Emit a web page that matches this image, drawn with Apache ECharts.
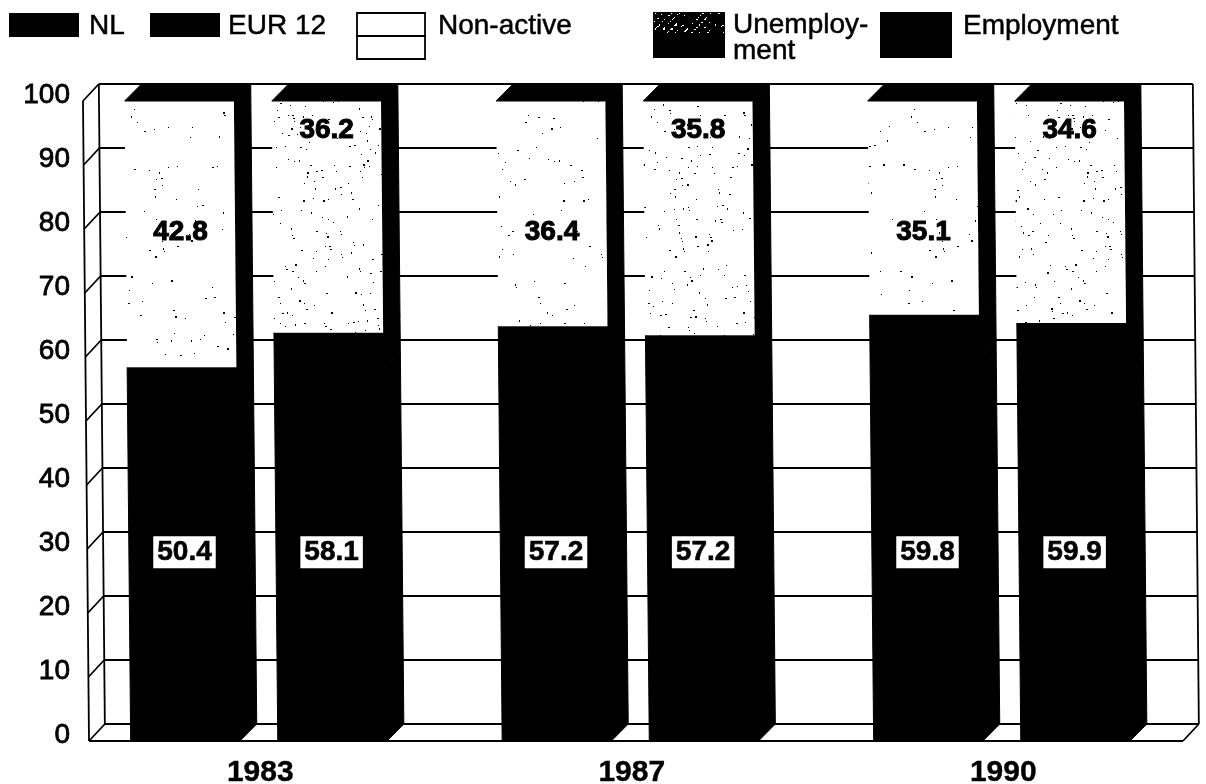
<!DOCTYPE html>
<html>
<head>
<meta charset="utf-8">
<style>html,body{margin:0;padding:0;background:#fff}#c{width:1206px;height:784px}</style>
<script src="https://cdn.jsdelivr.net/npm/echarts@6/dist/echarts.min.js"></script>
</head>
<body>
<div id="c"></div>
<script>
var years = ['1983', '1987', '1990'];
var yAxisMax = 100;
var yAxisStep = 10;
var employment = [50.4, 58.1, 57.2, 57.2, 59.8, 59.9];
var unemployment = [8.0, 5.7, 7.6, 6.2, 6.8, 5.4];
var nonActive = [41.6, 36.2, 35.2, 36.6, 33.4, 34.7];
var nonActiveLabels = ['42.8', '36.2', '36.4', '35.8', '35.1', '34.6'];
var employmentLabels = ['50.4', '58.1', '57.2', '57.2', '59.8', '59.9'];
var legendNames = ['NL', 'EUR 12', 'Non-active', 'Unemploy-\nment', 'Employment'];

// drawing constants
var DX = 17, DY = 17, WALL_DX = 16, SKEW = 0.0094;
var WALL_LEFT = 7, WALL_RIGHT = 13.5;
var SLOT = [{off: -0.369, w: 0.294}, {off: 0.027, w: 0.294}];
var FONT = '"Liberation Sans", Arial, sans-serif';

// speck textures (texture only, no data)
function makeTexture(size, count, color, bg) {
  var c = document.createElement('canvas');
  c.width = c.height = size;
  var g = c.getContext('2d');
  g.fillStyle = bg; g.fillRect(0, 0, size, size);
  g.fillStyle = color;
  var s = 17;
  for (var i = 0; i < count; i++) {
    s = (s * 1103 + 12345) % 65536;
    var x = (s >> 4) % size;
    s = (s * 1103 + 12345) % 65536;
    var y = (s >> 4) % size;
    g.fillRect(x, y, 1 + (i % 3 === 0 ? 1 : 0), 1 + (i % 4 === 0 ? 1 : 0));
  }
  return c;
}
var sparse = {image: makeTexture(260, 170, '#000', '#fff'), repeat: 'repeat'};
var dense = {image: makeTexture(260, 420, '#000', '#fff'), repeat: 'repeat'};
var darkSpeck = {image: makeTexture(72, 260, '#fff', '#000'), repeat: 'repeat'};

function slotOf(i) { return i % 2; }
function catOf(i) { return Math.floor(i / 2); }

function skewer(api) {
  var y0 = api.coord([0, 0])[1];
  return function (x, y) { return [x - (y0 - y) * SKEW, y]; };
}

function barItem(kind) {
  return function (params, api) {
    var i = params.dataIndex;
    var cat = api.value(0), lo = api.value(1), hi = api.value(2);
    var sl = SLOT[slotOf(i)];
    var band = api.size([1, 0])[0];
    var cx = api.coord([cat, 0])[0];
    var yb = api.coord([cat, lo])[1], yt = api.coord([cat, hi])[1];
    var l = cx + sl.off * band, r = l + sl.w * band;
    var s = skewer(api);
    var children = [];
    var black = {fill: '#000', stroke: '#000', lineWidth: 1};
    var front = kind === 'nonActive' ? {fill: slotOf(i) === 0 ? sparse : dense} : black;
    children.push({type: 'polygon', shape: {points: [s(r, yb), s(r + DX, yb - DY), s(r + DX, yt - DY), s(r, yt)]}, style: black});
    children.push({type: 'polygon', shape: {points: [s(l, yb), s(r, yb), s(r, yt), s(l, yt)]}, style: front});
    if (kind === 'nonActive') {
      children.push({type: 'polygon', shape: {points: [s(l, yt), s(l + DX, yt - DY), s(r + DX, yt - DY), s(r, yt)]}, style: black});
      var ly = api.coord([cat, slotOf(i) === 0 ? 79.5 : 95.5])[1];
      var p = s((l + r) / 2, ly);
      children.push({type: 'text', z2: 5, style: {text: nonActiveLabels[i], x: p[0], y: p[1], align: 'center', verticalAlign: 'middle', font: 'bold 28px ' + FONT, fill: '#000', stroke: '#000', lineWidth: 1}});
    }
    if (kind === 'employment') {
      var ly2 = api.coord([cat, 29.5])[1];
      var p2 = s((l + r) / 2 + 1, ly2);
      children.push({type: 'text', z2: 5, style: {text: employmentLabels[i], x: p2[0], y: p2[1], align: 'center', verticalAlign: 'middle', font: 'bold 28px ' + FONT, fill: '#000', stroke: '#000', lineWidth: 0.6, backgroundColor: '#fff', padding: [3, 4, 1, 4]}});
    }
    return {type: 'group', children: children};
  };
}

function wallItem(params, api) {
  var v = api.value(0);
  var y = api.coord([0, v])[1];
  var s = skewer(api);
  var cs = params.coordSys;
  var xl = cs.x + WALL_LEFT, xr = cs.x + cs.width - WALL_RIGHT;
  var st = {stroke: '#000', lineWidth: 1.8};
  var line = function (a, b) { return {type: 'line', shape: {x1: a[0], y1: a[1], x2: b[0], y2: b[1]}, style: st}; };
  var kids = [
    line(s(xl, y), s(xl + WALL_DX, y - DY)),
    line(s(xl + WALL_DX, y - DY), s(xr + WALL_DX, y - DY))
  ];
  if (v === 0) {
    kids.push(line(s(xl, y), s(xr, y)));
    kids.push(line(s(xr, y), s(xr + WALL_DX, y - DY)));
    var top = api.coord([0, yAxisMax])[1];
    kids.push(line(s(xl, y), s(xl, top)));
    kids.push(line(s(xl + WALL_DX, y - DY), s(xl + WALL_DX, top - DY)));
    kids.push(line(s(xr + WALL_DX, y - DY), s(xr + WALL_DX, top - DY)));
  }
  return {type: 'group', children: kids};
}

var employmentData = [], unemploymentData = [], nonActiveData = [];
employment.forEach(function (e, i) {
  var c = catOf(i), u = unemployment[i], n = nonActive[i];
  employmentData.push([c, 0, e]);
  unemploymentData.push([c, e, e + u]);
  nonActiveData.push([c, e + u, e + u + n]);
});
var wallData = [];
for (var t = 0; t <= yAxisMax; t += yAxisStep) wallData.push([t]);

var legendText = {fill: '#000', font: '28px ' + FONT, verticalAlign: 'middle', stroke: '#000', lineWidth: 0.5};
function lt(x, y, text, lh) {
  return {type: 'text', x: x, y: y, style: Object.assign({text: text, lineHeight: lh || 28}, legendText)};
}
function lr(x, y, w, h, fill, stroke) {
  return {type: 'rect', shape: {x: x, y: y, width: w, height: h}, style: {fill: fill, stroke: stroke || null, lineWidth: stroke ? 1.8 : 0}};
}

var option = {
  animation: false,
  backgroundColor: '#fff',
  grid: {left: 82, right: 9.5, top: 101, bottom: 43, containLabel: false, outerBoundsMode: 'none'},
  xAxis: {
    type: 'category', data: years,
    axisLine: {show: false}, axisTick: {show: false}, splitLine: {show: false},
    axisLabel: {fontFamily: FONT, fontWeight: 'bold', fontSize: 30, color: '#000', margin: 17, padding: [0, 15, 0, 0], textBorderColor: '#000', textBorderWidth: 0.4}
  },
  yAxis: {
    type: 'value', min: 0, max: yAxisMax, interval: yAxisStep,
    axisLine: {show: false}, axisTick: {show: false}, splitLine: {show: false},
    axisLabel: {fontFamily: FONT, fontSize: 28, color: '#000', margin: 12, verticalAlign: 'bottom', lineHeight: 12, textBorderColor: '#000', textBorderWidth: 0.8}
  },
  series: [
    {name: 'Wall', type: 'custom', renderItem: wallItem, data: wallData, silent: true, clip: false, z: 1, encode: {y: 0}},
    {name: 'Employment', type: 'custom', renderItem: barItem('employment'), data: employmentData, clip: false, z: 2, encode: {x: 0, y: [1, 2]}},
    {name: 'Unemployment', type: 'custom', renderItem: barItem('unemployment'), data: unemploymentData, clip: false, z: 2, encode: {x: 0, y: [1, 2]}},
    {name: 'Non-active', type: 'custom', renderItem: barItem('nonActive'), data: nonActiveData, clip: false, z: 3, encode: {x: 0, y: [1, 2]}}
  ],
  graphic: {elements: [
    lr(9, 13, 70, 24, '#000'), lt(89, 26, legendNames[0]),
    lr(150, 13, 70, 24, '#000'), lt(228, 26, legendNames[1]),
    lr(357, 13, 68, 23, '#fff', '#000'), lr(357, 36, 68, 23, '#fff', '#000'), lt(438, 26, legendNames[2]),
    lr(653, 12, 72, 46, '#000'), lr(654, 13, 70, 20, darkSpeck), lt(733, 38, legendNames[3], 26),
    lr(880, 12, 72, 46, '#000'), lt(963, 26, legendNames[4])
  ]}
};
var chart = echarts.init(document.getElementById('c'), null, {renderer: 'canvas'});
chart.setOption(option);
</script>
</body>
</html>
